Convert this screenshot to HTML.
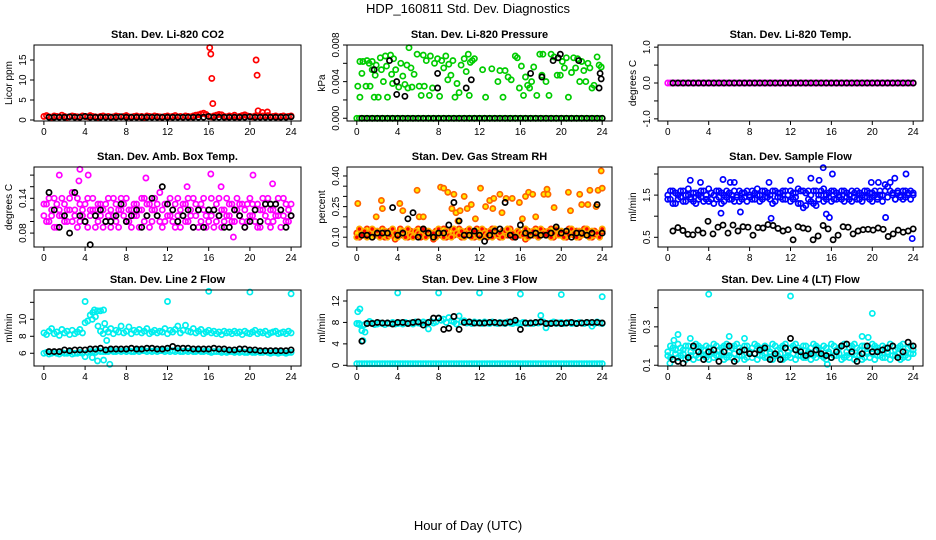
<!DOCTYPE html>
<html><head><meta charset="utf-8">
<style>
html,body{margin:0;padding:0;background:#fff;}
svg{display:block;font-family:"Liberation Sans",sans-serif;}
</style></head>
<body>
<svg id="chart" width="936" height="540" viewBox="0 0 936 540" xmlns="http://www.w3.org/2000/svg">
<text x="468" y="13" text-anchor="middle" font-size="13">HDP_160811  Std. Dev. Diagnostics</text>
<text x="468" y="530" text-anchor="middle" font-size="13">Hour of Day (UTC)</text>
</svg>
<script>
// ---- data ----
const xTicks=[0,4,8,12,16,20,24];
// P1 CO2
const co2Red=[.9,1.1,.8,.7,1,.9,.8,1.2,.9,.7,.8,1,.9,.8,.7,1,.9,.8,1.1,.9,.8,.7,.9,1,.8,.9,.7,.8,1,.9,.8,.9,1.1,.8,.7,.9,1,.8,.9,.7,1,.9,.8,1,.9,.8,.7,.9,1,.8,.9,1.1,.8,.9,.7,1,.9,.8,1,1.2,1.3,1.5,1.7,1.4,.9,.8,1,1.2,1.4,1.3,.9,.8,1,.9,1.2,.8,.9,1.1,1.3,1,.9,.8,1,.9,.8,1,.9,1.1,.8,.9,1,.8,.9,1,.8,.9,1];
const co2Black=[.7,.7,.7,.7,.8,.7,.7,.9,.7,.7,.7,.7,.7,.7,.8,.7,.7,.7,.7,.7,.7,.7,.7,.7,.7,.7,.7,.7,.7,.7,.7,.9,.7,.7,.7,.7,.7,.7,.7,.8,.7,.7,.7,.7,.7,.7,.7,.8];
const co2OutX=[16.1,16.2,16.3,16.4,20.6,20.7,20.8,21.2,21.7];
const co2OutY=[18.1,16.5,10.4,4.1,15,11.2,2.3,1.9,2];
// P2 Pressure
const presGreenZero=[0,0,0,0,0,0,0,0,0,0,0,0,0,0,0,0,0,0,0,0,0,0,0,0,0,0,0,0,0,0,0,0,0,0,0,0,0,0,0,0,0,0,0,0,0,0,0,0,0,0,0,0,0,0,0,0,0,0,0,0,0,0,0,0,0,0,0,0,0,0,0,0,0,0,0,0,0,0,0,0,0,0,0,0,0,0,0,0,0,0,0,0,0,0,0,0,0];
const presGreenX=[0.1,0.3,0.3,0.5,0.6,0.9,1,1.2,1.3,1.5,1.5,1.7,1.8,1.9,2.1,2.3,2.4,2.6,2.8,2.9,3,3.3,3.4,3.5,3.6,3.8,4.1,4.3,4.5,4.7,4.9,5,5.1,5.3,5.4,5.6,5.9,6.1,6.3,6.5,6.6,6.8,7.1,7.2,7.4,7.6,7.9,8.1,8.3,8.5,8.7,8.9,9,9.2,9.4,9.6,9.8,10,10.2,10.5,10.7,10.9,11,11.1,11.3,11.5,12.3,12.6,13.2,13.8,14,14.3,14.5,14.8,15.1,15.5,15.7,15.9,16.1,16.3,16.5,16.7,16.9,17.1,17.3,17.6,17.9,18.1,18.2,18.5,18.8,19,19.3,19.6,19.9,20.1,20.3,20.5,20.7,21,21.2,21.4,21.6,21.8,22,22.2,22.4,22.6,22.8,23,23.2,23.5,23.7,23.9];
const presGreenY=[.0035,.0062,.0023,.0049,.0062,.0035,.0063,.0060,.0035,.0062,.0053,.0023,.0047,.0058,.0023,.0066,.0053,.0040,.0068,.0057,.0023,.0069,.0048,.0038,.0065,.0053,.0034,.0060,.0046,.0037,.0058,.0033,.0077,.0055,.0034,.0048,.0070,.0035,.0025,.0069,.0035,.0063,.0025,.0068,.0033,.0060,.0065,.0024,.0063,.0055,.0068,.0042,.0059,.0047,.0063,.0023,.0038,.0028,.0058,.0065,.0051,.0070,.0025,.0061,.0063,.0065,.0053,.0023,.0054,.0040,.0052,.0023,.0052,.0045,.0042,.0068,.0066,.0033,.0057,.0025,.0045,.0036,.0033,.0040,.0056,.0025,.0070,.0047,.0070,.0040,.0025,.0070,.0067,.0047,.0047,.0062,.0055,.0066,.0023,.0050,.0066,.0055,.0065,.0040,.0062,.0052,.0040,.0060,.0055,.0033,.0036,.0067,.0058,.0056];
const presBlack=[0,0,0,0,0,0,0,0,0,0,0,0,0,0,0,0,0,0,0,0,0,0,0,0,0,0,0,0,0,0,0,0,0,0,0,0,0,0,0,0,0,0,0,0,0,0,0,0];
const presOutX=[1.7,3.2,3.9,3.9,4.7,7.9,7.9,11.2,10.7,17,18.1,19.2,19.7,19.9,21.7,23.8,23.9,23.7];
const presOutY=[.0053,.0063,.004,.0026,.0024,.0049,.0033,.0042,.0033,.0049,.0045,.0063,.0066,.007,.0063,.0049,.0043,.0033];
// P3 Temp
const tempMag=[0,0,0,0,0,0,0,0,0,0,0,0,0,0,0,0,0,0,0,0,0,0,0,0,0,0,0,0,0,0,0,0,0,0,0,0,0,0,0,0,0,0,0,0,0,0,0,0,0,0,0,0,0,0,0,0,0,0,0,0,0,0,0,0,0,0,0,0,0,0,0,0,0,0,0,0,0,0,0,0,0,0,0,0,0,0,0,0,0,0,0,0,0,0,0,0,0];
const tempBlack=[0,0,0,0,0,0,0,0,0,0,0,0,0,0,0,0,0,0,0,0,0,0,0,0,0,0,0,0,0,0,0,0,0,0,0,0,0,0,0,0,0,0,0,0,0,0,0,0];
// P4 Amb box temp
const boxMagA=[.11,.13,.10,.12,.14,.09,.12,.11,.13,.10,.12,.15,.11,.09,.13,.12,.10,.14,.11,.12,.09,.13,.11,.12,.10,.14,.12,.11,.13,.09,.12,.11,.14,.10,.12,.13,.11,.09,.12,.14,.11,.13,.10,.12,.11,.15,.12,.10,.13,.11,.12,.09,.14,.12,.11,.13,.10,.12,.14,.11,.09,.13,.12,.11,.10,.14,.12,.13,.11,.09,.12,.14,.11,.13,.10,.12,.11,.13,.12,.10,.14,.11,.12,.13,.09,.12,.11,.14,.12,.10,.13,.11,.12,.14,.10,.12,.11];
const boxMagB=[.13,.10,.14,.11,.09,.13,.11,.14,.10,.12,.14,.10,.12,.14,.10,.11,.13,.09,.12,.14,.12,.10,.13,.09,.13,.11,.09,.14,.10,.12,.14,.13,.10,.12,.09,.11,.13,.12,.14,.10,.13,.09,.12,.14,.13,.10,.09,.13,.11,.14,.10,.13,.11,.09,.13,.10,.14,.11,.09,.13,.12,.10,.14,.09,.12,.11,.09,.10,.14,.12,.10,.11,.13,.10,.12,.14,.13,.10,.09,.13,.11,.13,.10,.09,.12,.14,.13,.10,.09,.12,.11,.14,.09,.11,.13,.10,.13];
const boxBlack=[.15,.12,.09,.11,.08,.15,.11,.10,.06,.11,.12,.10,.10,.11,.13,.10,.11,.12,.09,.11,.14,.11,.16,.13,.12,.10,.11,.12,.09,.12,.09,.12,.12,.11,.09,.09,.12,.11,.09,.10,.12,.10,.13,.13,.13,.12,.09,.11];
const boxOutX=[1.5,3.5,4.3,16.2,20.3,22.2,17.2,18.4,3.4,9.9,13.9];
const boxOutY=[.18,.19,.18,.182,.18,.165,.16,.073,.17,.175,.16];
// P5 Gas stream RH
const rhA=[.12,.10,.13,.11,.14,.12,.10,.13,.11,.12,.14,.10,.12,.13,.11,.09,.12,.14,.11,.12,.10,.13,.12,.11,.14,.10,.12,.13,.11,.12,.09,.13,.12,.11,.14,.10,.12,.13,.11,.12,.14,.10,.12,.13,.11,.12,.10,.14,.12,.11,.13,.10,.12,.14,.11,.12,.10,.13,.12,.11,.14,.10,.12,.13,.11,.12,.09,.13,.12,.11,.14,.10,.12,.13,.11,.12,.14,.10,.12,.13,.11,.12,.10,.14,.12,.11,.13,.10,.12,.14,.11,.12,.10,.13,.12,.11,.13];
const rhB=[.10,.14,.11,.13,.10,.12,.14,.11,.13,.10,.12,.13,.10,.11,.14,.12,.10,.12,.13,.10,.14,.11,.10,.13,.12,.11,.14,.10,.13,.11,.12,.10,.14,.12,.10,.13,.11,.10,.14,.12,.11,.13,.10,.12,.14,.10,.13,.11,.10,.14,.12,.11,.13,.10,.14,.11,.12,.10,.13,.14,.11,.12,.10,.13,.12,.11,.14,.10,.12,.13,.11,.10,.14,.12,.11,.13,.10,.12,.14,.11,.13,.10,.12,.11,.14,.12,.10,.13,.11,.12,.14,.10,.13,.11,.12,.10,.14];
const rhOutX=[0.1,1.9,2.4,2.5,4.2,4.5,5.9,6.1,8.2,8.5,8.9,9.3,9.5,9.7,10.1,10.5,10.8,11.2,12.1,12.6,13,13.3,13.4,14,14.6,15.2,15.9,16.5,16.8,17.2,17.5,18.3,18.6,18.7,19.3,20.7,20.9,21.8,22,22.6,22.8,23.4,23.6,23.9,24,9.9,6.5,14.2,16.2,11.6];
const rhOutY=[.265,.2,.28,.24,.265,.23,.33,.2,.345,.34,.32,.24,.31,.22,.23,.3,.24,.26,.34,.25,.28,.24,.29,.31,.29,.29,.27,.3,.32,.31,.2,.31,.335,.31,.245,.32,.23,.31,.26,.26,.33,.25,.33,.425,.34,.18,.2,.22,.19,.19];
const rhBlack=[.11,.11,.10,.12,.12,.12,.245,.11,.12,.19,.22,.10,.14,.12,.10,.12,.12,.16,.27,.18,.11,.11,.13,.11,.08,.11,.13,.14,.27,.11,.10,.16,.12,.11,.12,.11,.11,.12,.15,.12,.13,.10,.12,.12,.11,.12,.26,.12];
// P6 Sample flow
const flowA=[1.5,1.4,1.6,1.3,1.5,1.45,1.6,1.35,1.5,1.4,1.55,1.3,1.5,1.45,1.6,1.4,1.35,1.55,1.5,1.4,1.6,1.3,1.5,1.45,1.55,1.4,1.6,1.5,1.35,1.55,1.45,1.6,1.5,1.4,1.55,1.65,1.5,1.4,1.6,1.45,1.5,1.3,1.6,1.45,1.55,1.4,1.6,1.5,1.35,1.55,1.45,1.3,1.6,1.2,1.55,1.4,1.35,1.6,1.25,1.5,1.6,1.35,1.5,1.45,1.6,1.4,1.55,1.5,1.4,1.6,1.45,1.5,1.35,1.55,1.6,1.4,1.5,1.45,1.6,1.4,1.55,1.5,1.4,1.6,1.5,1.75,1.7,1.6,1.5,1.4,1.55,1.5,1.6,1.45,1.5,1.6,1.5];
const flowB=[1.4,1.6,1.3,1.55,1.4,1.6,1.35,1.5,1.65,1.45,1.35,1.55,1.4,1.6,1.35,1.5,1.65,1.4,1.3,1.6,1.45,1.55,1.35,1.6,1.4,1.5,1.35,1.45,1.6,1.4,1.55,1.35,1.45,1.6,1.4,1.5,1.35,1.6,1.45,1.55,1.4,1.6,1.35,1.55,1.45,1.6,1.4,1.5,1.6,1.4,1.55,1.65,1.3,1.6,1.25,1.6,1.5,1.3,1.6,1.4,1.5,1.65,1.4,1.55,1.35,1.6,1.4,1.45,1.6,1.35,1.55,1.4,1.6,1.45,1.4,1.55,1.35,1.6,1.45,1.55,1.35,1.6,1.45,1.5,1.35,1.6,1.45,1.8,1.55,1.4,1.6,1.45,1.4,1.6,1.55,1.4,1.55];
const flowOutX=[2.2,3.2,5.4,6.1,6.5,7.1,10.1,9.9,14,14.8,15.2,15.5,15.8,19.9,21.3,22.2,23.3,23.9,20.6,16.1,5.2,12];
const flowOutY=[1.85,1.8,1.87,1.8,1.8,1.1,.95,1.8,1.9,1.85,2.15,1.05,.97,1.8,.97,1.9,2.0,.47,1.8,2.0,1.07,1.85];
const flowBlack=[.65,.73,.66,.57,.56,.67,.6,.88,.58,.74,.79,.6,.79,.65,.75,.74,.55,.73,.72,.8,.78,.71,.65,.68,.44,.75,.72,.7,.44,.53,.78,.7,.44,.55,.75,.74,.58,.65,.68,.69,.67,.72,.69,.52,.58,.67,.62,.65,.7];
// P7 Line 2 flow
const l2Upper=[8.4,8.2,8.6,8.9,8.3,8.5,8.1,8.8,8.4,8.6,8.2,8.7,8.3,8.5,8.8,8.4,9.6,9.8,10.5,10.8,10.3,9.2,8.6,8.3,8.8,8.5,8.9,8.3,8.7,8.5,9.2,8.4,8.6,9.1,8.3,8.7,8.5,8.8,8.4,8.6,8.9,8.3,8.5,8.7,8.4,8.6,8.5,8.9,8.3,8.7,8.5,8.8,9.2,8.4,8.7,9.3,8.6,8.5,8.9,8.4,8.6,8.8,8.3,8.5,8.7,8.4,8.6,8.3,8.5,8.2,8.6,8.4,8.5,8.3,8.6,8.4,8.5,8.2,8.6,8.4,8.3,8.5,8.7,8.3,8.5,8.4,8.6,8.2,8.4,8.5,8.6,8.3,8.4,8.5,8.3,8.6,8.4];
const l2Lower=[6,6.1,5.9,6,6.1,6,5.9,6.1,6,6,6.1,5.9,6,6,6.1,6,5.6,6.1,6.2,6.2,6.1,6.3,6.2,6.2,6.2,6.2,6.3,6.2,6.2,6.3,6.2,6.3,6.2,6.3,6.2,6.2,6.3,6.2,6.3,6.3,6.2,6.3,6.2,6.3,6.2,6.3,6.3,6.2,6.3,6.2,6.3,6.2,6.3,6.2,6.2,6.3,6.2,6.3,6.2,6.2,6.3,6.2,6.2,6.3,6.2,6.1,6.2,6.2,6.2,6.1,6.2,6.1,6.2,6.2,6.1,6.2,6.1,6.2,6.1,6.1,6.2,6.1,6.1,6.2,6.1,6.1,6.2,6.1,6.0,6.1,6.1,6.0,6.1,6.1,6.0,6.1,6.1];
const l2OutX=[4,12,16,20,24,4.7,4.9,5.2,5.5,5.8,5.2,6.4,5.8,4.7,6.1,5.9];
const l2OutY=[12.1,12.1,13.3,13.2,13,10,11.1,11,11,11.1,5.1,4.7,5.2,5.5,7.5,9.5];
const l2Black=[6.2,6.2,6.2,6.4,6.3,6.4,6.4,6.4,6.5,6.5,6.6,6.4,6.5,6.5,6.5,6.5,6.6,6.5,6.5,6.6,6.6,6.5,6.5,6.6,6.8,6.6,6.6,6.6,6.5,6.5,6.5,6.5,6.6,6.5,6.5,6.4,6.4,6.5,6.5,6.4,6.4,6.3,6.3,6.3,6.3,6.3,6.3,6.4];
// P8 Line 3 flow
const l3Zero=[.3,.3,.3,.3,.3,.3,.3,.3,.3,.3,.3,.3,.3,.3,.3,.3,.3,.3,.3,.3,.3,.3,.3,.3,.3,.3,.3,.3,.3,.3,.3,.3,.3,.3,.3,.3,.3,.3,.3,.3,.3,.3,.3,.3,.3,.3,.3,.3,.3,.3,.3,.3,.3,.3,.3,.3,.3,.3,.3,.3,.3,.3,.3,.3,.3,.3,.3,.3,.3,.3,.3,.3,.3,.3,.3,.3,.3,.3,.3,.3,.3,.3,.3,.3,.3,.3,.3,.3,.3,.3,.3,.3,.3,.3,.3,.3,.3];
const l3Upper=[7.8,7.6,6.5,7.6,7.8,8.2,7.9,7.6,7.7,7.9,7.8,7.6,7.9,7.8,8,7.7,7.8,7.9,7.7,8,7.8,7.9,7.7,8.1,7.9,7.8,8.1,7.9,6.8,8.2,7.9,8.1,8.8,8.4,8.6,8,8.9,8.3,8.1,7.7,9.2,8.1,8.3,7.9,8.0,7.8,8.1,7.9,8.0,7.8,8.1,7.9,7.8,8.1,7.9,7.8,8.0,7.9,7.8,8.1,7.9,7.8,8.0,7.9,7.8,8.0,7.9,7.8,7.9,7.8,8.0,7.9,9.3,8.1,7.0,7.8,7.9,8.1,7.8,7.9,8.0,7.8,7.9,8.0,7.8,7.9,7.8,8.0,7.9,7.8,8.0,7.9,7.3,7.8,8.1,7.9,7.8];
const l3OutX=[4,8,12,16,20,24,0.1,0.3,0.6,0.5,0.8,0.2];
const l3OutY=[13.5,13.5,13.5,13.3,13.2,12.8,10,10.5,4.6,6.5,6.2,7.8];
const l3Black=[4.5,7.8,7.8,8,7.9,7.9,7.7,8,8,7.8,8,8.1,7.5,8,8.8,8.8,6.7,6.9,9.1,6.7,8,8.1,7.9,7.9,7.9,8,8,7.9,7.9,8.1,8.4,6.7,7.9,7.9,8,8.1,7.8,7.8,7.9,7.8,7.9,8,7.8,7.9,8,8,8,7.9];
// P9 Line 4 flow
const l4A=[.17,.14,.19,.16,.21,.15,.18,.2,.14,.17,.19,.15,.2,.16,.18,.14,.19,.17,.21,.15,.18,.16,.2,.14,.17,.19,.16,.21,.15,.18,.2,.14,.17,.19,.16,.2,.15,.18,.14,.19,.17,.21,.15,.18,.16,.2,.14,.17,.19,.16,.21,.15,.18,.2,.14,.17,.19,.15,.2,.16,.18,.14,.19,.17,.21,.15,.18,.16,.2,.14,.17,.19,.16,.21,.15,.18,.2,.14,.17,.19,.16,.2,.15,.18,.14,.19,.17,.21,.15,.18,.16,.2,.14,.17,.19,.16,.18];
const l4B=[.15,.2,.13,.18,.14,.19,.16,.13,.2,.15,.13,.21,.14,.19,.15,.2,.13,.16,.14,.2,.15,.19,.13,.21,.15,.14,.2,.13,.19,.15,.13,.2,.16,.14,.21,.13,.19,.15,.2,.14,.16,.13,.2,.15,.19,.13,.21,.15,.14,.2,.13,.19,.15,.14,.2,.16,.13,.21,.14,.19,.15,.2,.13,.16,.14,.2,.15,.19,.13,.21,.15,.14,.2,.13,.19,.15,.13,.2,.16,.14,.21,.13,.19,.15,.2,.14,.16,.13,.2,.15,.19,.13,.21,.15,.14,.2,.16];
const l4OutX=[4,12,20,15.6,0.2,1,2.2,6,7.5,19,19.6,0.6];
const l4OutY=[.47,.46,.37,.105,.11,.26,.24,.25,.24,.25,.245,.23];
const l4Black=[.13,.12,.11,.14,.2,.17,.13,.17,.18,.12,.17,.2,.12,.17,.18,.16,.16,.18,.19,.13,.16,.13,.19,.24,.18,.17,.15,.16,.18,.16,.15,.14,.17,.2,.21,.17,.12,.16,.2,.17,.17,.18,.19,.2,.14,.17,.22,.2];

// ---- layout config (not data) ----
const cols=[[34,301],[347,612],[658,923]];
const rows=[[45,121],[167,247],[290,366]];
const panels=[
 {name:'co2',title:'Stan. Dev. Li-820 CO2',ylab:'Licor ppm',c:0,r:0,ylim:[-0.25,18.75],ticks:[0,5,10,15],labs:['0','5','10','15'],
  series:[[co2Red,'#ff0000','none']],out:[co2OutX,co2OutY,'#ff0000'],black:co2Black},
 {name:'pressure',title:'Stan. Dev. Li-820 Pressure',ylab:'kPa',c:1,r:0,ylim:[-0.0003,0.008],ticks:[0,.002,.004,.006,.008],labs:['0.000','','0.004','','0.008'],
  series:[[presGreenZero,'#00cc00','none']],out:[presGreenX,presGreenY,'#00cc00'],black:presBlack,out2:[presOutX,presOutY]},
 {name:'temp',title:'Stan. Dev. Li-820 Temp.',ylab:'degrees C',c:2,r:0,ylim:[-1.06,1.06],ticks:[-1,-.5,0,.5,1],labs:['-1.0','','0.0','','1.0'],
  series:[[tempMag,'#ff00ff','none']],black:tempBlack},
 {name:'box-temp',title:'Stan. Dev. Amb. Box Temp.',ylab:'degrees C',c:0,r:1,ylim:[0.056,0.194],ticks:[.08,.1,.12,.14,.16,.18],labs:['0.08','','','0.14','',''],
  series:[[boxMagA,'#ff00ff','none'],[boxMagB,'#ff00ff','none']],out:[boxOutX,boxOutY,'#ff00ff'],black:boxBlack},
 {name:'rh',title:'Stan. Dev. Gas Stream RH',ylab:'percent',c:1,r:1,ylim:[0.052,0.444],ticks:[.1,.15,.2,.25,.3,.35,.4],labs:['0.10','','','0.25','','','0.40'],
  series:[[rhA,'#ff3300','#ffee00'],[rhB,'#ffaa00','#ff0000']],out:[rhOutX,rhOutY,'#ff6600','#ffee00'],black:rhBlack},
 {name:'sample-flow',title:'Stan. Dev. Sample Flow',ylab:'ml/min',c:2,r:1,ylim:[0.27,2.166],ticks:[.5,1,1.5,2],labs:['0.5','','1.5',''],
  series:[[flowA,'#0000ff','none'],[flowB,'#0000ff','none']],out:[flowOutX,flowOutY,'#0000ff'],black:flowBlack},
 {name:'line2-flow',title:'Stan. Dev. Line 2 Flow',ylab:'ml/min',c:0,r:2,ylim:[4.5,13.45],ticks:[6,8,10,12],labs:['6','8','10',''],
  series:[[l2Upper,'#00eeee','none'],[l2Lower,'#00eeee','none']],out:[l2OutX,l2OutY,'#00eeee'],black:l2Black},
 {name:'line3-flow',title:'Stan. Dev. Line 3 Flow',ylab:'ml/min',c:1,r:2,ylim:[-0.13,14.05],ticks:[0,4,8,12],labs:['0','4','8','12'],
  series:[[l3Zero,'#00eeee','none'],[l3Upper,'#00eeee','none']],out:[l3OutX,l3OutY,'#00eeee'],black:l3Black},
 {name:'line4-flow',title:'Stan. Dev. Line 4 (LT) Flow',ylab:'ml/min',c:2,r:2,ylim:[0.096,0.492],ticks:[.1,.2,.3,.4],labs:['0.1','','0.3',''],
  series:[[l4A,'#00eeee','none'],[l4B,'#00eeee','none']],out:[l4OutX,l4OutY,'#00eeee'],black:l4Black}
];
const svg=document.getElementById('chart');
const NS='http://www.w3.org/2000/svg';
function mk(tag,attrs,parent){const e=document.createElementNS(NS,tag);for(const k in attrs)e.setAttribute(k,attrs[k]);parent.appendChild(e);return e;}
function pt(g,x,y,stroke,fill){const c=mk('circle',{cx:x.toFixed(1),cy:y.toFixed(1),r:2.6,stroke:stroke,'stroke-width':1.7,fill:fill},g);

}
panels.forEach(p=>{
 const [L,R]=cols[p.c],[T,B]=rows[p.r];
 const xs=v=>L+(v+0.96)/25.92*(R-L);
 const ys=v=>B-(v-p.ylim[0])/(p.ylim[1]-p.ylim[0])*(B-T);
 const g=mk('g',{},svg);
 
 
 const t=mk('text',{x:(L+R)/2,y:T-7,'text-anchor':'middle','font-size':11,'font-weight':'bold'},g);t.textContent=p.title;
 
 
 const yl=mk('text',{transform:`translate(${L-22},${(T+B)/2}) rotate(-90)`,'text-anchor':'middle','font-size':10},g);yl.textContent=p.ylab;
 
 
 const plot=mk('g',{},g);
 
 
 p.series.forEach(s=>{const arr=s[0];arr.forEach((v,i)=>pt(plot,xs(i*24/(arr.length-1)),ys(v),s[1],s[2]));});
 if(p.out){const [ox,oy,col,fl]=p.out;ox.forEach((x,i)=>pt(plot,xs(x),ys(oy[i]),col,fl||'none'));}
 p.black.forEach((v,i)=>pt(plot,xs(0.5+i*23.5/(p.black.length-1)),ys(v),'#000','none'));
 if(p.out2){const [ox,oy]=p.out2;ox.forEach((x,i)=>pt(plot,xs(x),ys(oy[i]),'#000','none'));}
 const box=mk('rect',{x:L,y:T,width:R-L,height:B-T,fill:'none',stroke:'#000','stroke-width':1},g);
 
 
 xTicks.forEach(v=>{const x=xs(v);mk('line',{x1:x,x2:x,y1:B,y2:B+4,stroke:'#000'},g);
  const tx=mk('text',{x:x,y:B+14,'text-anchor':'middle','font-size':10},g);tx.textContent=v;
  
  });
 p.ticks.forEach((v,i)=>{const y=ys(v);mk('line',{x1:L-4,x2:L,y1:y,y2:y,stroke:'#000'},g);
  if(p.labs[i]){const ty=mk('text',{transform:`translate(${L-8},${y}) rotate(-90)`,'text-anchor':'middle','font-size':10},g);ty.textContent=p.labs[i];
  
  }});
});
</script>
</body></html>
